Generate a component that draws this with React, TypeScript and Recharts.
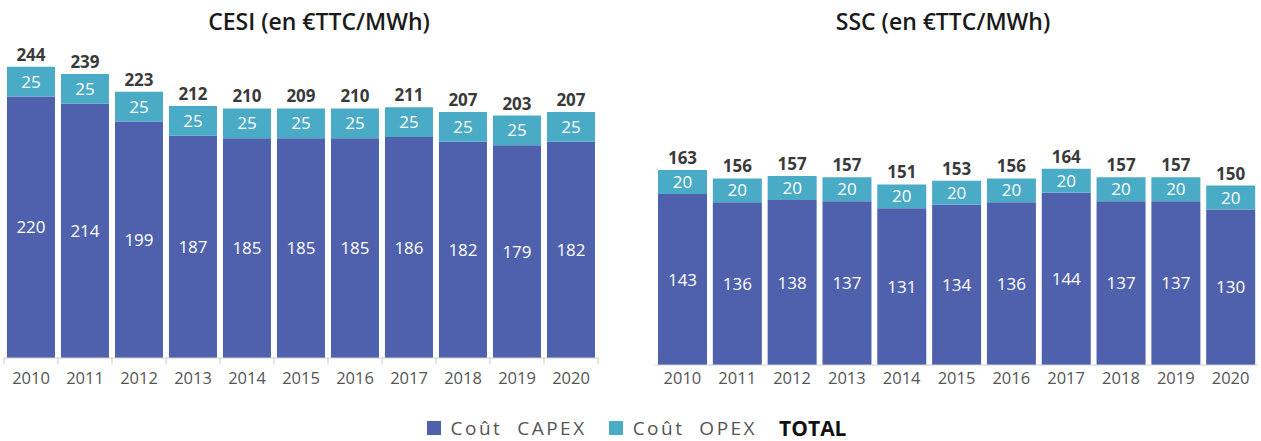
import { BarChart, Bar, XAxis, YAxis, LabelList } from "recharts";

const years = ["2010", "2011", "2012", "2013", "2014", "2015", "2016", "2017", "2018", "2019", "2020"];

const cesiCapex = [220, 214, 199, 187, 185, 185, 185, 186, 182, 179, 182];
const cesiOpex = [25, 25, 25, 25, 25, 25, 25, 25, 25, 25, 25];
const cesiTotal = [244, 239, 223, 212, 210, 209, 210, 211, 207, 203, 207];

const sscCapex = [143, 136, 138, 137, 131, 134, 136, 144, 137, 137, 130];
const sscOpex = [20, 20, 20, 20, 20, 20, 20, 20, 20, 20, 20];
const sscTotal = [163, 156, 157, 157, 151, 153, 156, 164, 157, 157, 150];

const seriesNames = ["Coût  CAPEX", "Coût  OPEX"];
const totalName = "TOTAL";

const CAPEX_COLOR = "#4f61ad";
const OPEX_COLOR = "#4aabc6";
const FONT = "'Open Sans', 'Noto Sans', sans-serif";

const buildRows = (capex: number[], opex: number[], total: number[]) =>
  years.map((year, i) => ({ year, capex: capex[i], opex: opex[i], total: total[i] }));

// tick with small marks on the category boundaries (left chart only)
function BoundaryTick(props: any) {
  const { x, y, payload, index, step, drop, last } = props;
  const base = y - drop;
  return (
    <g>
      <line x1={x - step / 2} y1={base} x2={x - step / 2} y2={base + 6} stroke="#c8c8c8" />
      {index === last && (
        <line x1={x + step / 2} y1={base} x2={x + step / 2} y2={base + 6} stroke="#c8c8c8" />
      )}
      <text x={x} y={y} dy="0.71em" textAnchor="middle" fill="#555" fontSize={16.5}>
        {payload.value}
      </text>
    </g>
  );
}

function PlainTick(props: any) {
  const { x, y, payload } = props;
  return (
    <text x={x} y={y} dy="0.71em" textAnchor="middle" fill="#555" fontSize={16.5}>
      {payload.value}
    </text>
  );
}

type ChartProps = {
  rows: any[];
  width: number;
  margin: { top: number; right: number; left: number; bottom: number };
  axisHeight: number;
  tickDrop: number;
  marks: boolean;
};

function CostChart({ rows, width, margin, axisHeight, tickDrop, marks }: ChartProps) {
  const step = (width - margin.left - margin.right) / rows.length;
  return (
    <BarChart width={width} height={400} data={rows} margin={margin} barCategoryGap="5.5%">
      <XAxis
        dataKey="year"
        height={axisHeight}
        stroke="#d0d0d0"
        tickLine={false}
        tickSize={0}
        tickMargin={tickDrop}
        interval={0}
        tick={
          marks ? (
            <BoundaryTick step={step} drop={tickDrop} last={rows.length - 1} />
          ) : (
            <PlainTick />
          )
        }
      />
      <YAxis hide domain={[0, 260]} />
      <Bar dataKey="capex" stackId="a" fill={CAPEX_COLOR} isAnimationActive={false}>
        <LabelList dataKey="capex" position="center" fill="#ffffff" fontSize={17} />
      </Bar>
      <Bar dataKey="opex" stackId="a" fill={OPEX_COLOR} isAnimationActive={false}>
        <LabelList dataKey="opex" position="center" fill="#ffffff" fontSize={17} />
        <LabelList
          dataKey="total"
          position="top"
          offset={6}
          fill="#3a3a3a"
          fontSize={17}
          fontWeight={700}
        />
      </Bar>
    </BarChart>
  );
}

export default function App() {
  const cesiRows = buildRows(cesiCapex, cesiOpex, cesiTotal);
  const sscRows = buildRows(sscCapex, sscOpex, sscTotal);
  const titleStyle: any = {
    position: "absolute",
    top: 5,
    fontSize: 23,
    fontWeight: 600,
    color: "#1a1a1a",
    transform: "translateX(-50%)",
    whiteSpace: "nowrap",
  };
  return (
    <div
      style={{
        position: "absolute",
        left: 0,
        top: 0,
        width: 1261,
        height: 441,
        background: "#fff",
        fontFamily: FONT,
        overflow: "hidden",
      }}
    >
      <div style={{ ...titleStyle, left: 319 }}>CESI (en €TTC/MWh)</div>
      <div style={{ ...titleStyle, left: 943 }}>SSC (en €TTC/MWh)</div>

      <div style={{ position: "absolute", left: 0, top: 0 }}>
        <CostChart
          rows={cesiRows}
          width={610}
          margin={{ top: 49, right: 12, left: 4, bottom: 0 }}
          axisHeight={42}
          tickDrop={14}
          marks={true}
        />
      </div>
      <div style={{ position: "absolute", left: 640, top: 0 }}>
        <CostChart
          rows={sscRows}
          width={621}
          margin={{ top: 54, right: 3, left: 15, bottom: 0 }}
          axisHeight={35}
          tickDrop={7}
          marks={false}
        />
      </div>

      <div
        style={{
          position: "absolute",
          left: 0,
          top: 416,
          width: 1261,
          height: 24,
          lineHeight: "24px",
          display: "flex",
          justifyContent: "center",
          alignItems: "center",
          fontSize: 19,
          letterSpacing: 2.5,
          color: "#555",
          paddingLeft: 6,
        }}
      >
        {seriesNames.map((name, i) => (
          <div key={name} style={{ display: "flex", alignItems: "center", marginRight: 22 }}>
            <span
              style={{
                display: "inline-block",
                width: 14,
                height: 14,
                background: i === 0 ? CAPEX_COLOR : OPEX_COLOR,
                marginRight: 10,
              }}
            />
            <span style={{ whiteSpace: "pre" }}>{name}</span>
          </div>
        ))}
        <span style={{ fontWeight: 700, color: "#111", fontSize: 21, letterSpacing: 0 }}>
          {totalName}
        </span>
      </div>
    </div>
  );
}
